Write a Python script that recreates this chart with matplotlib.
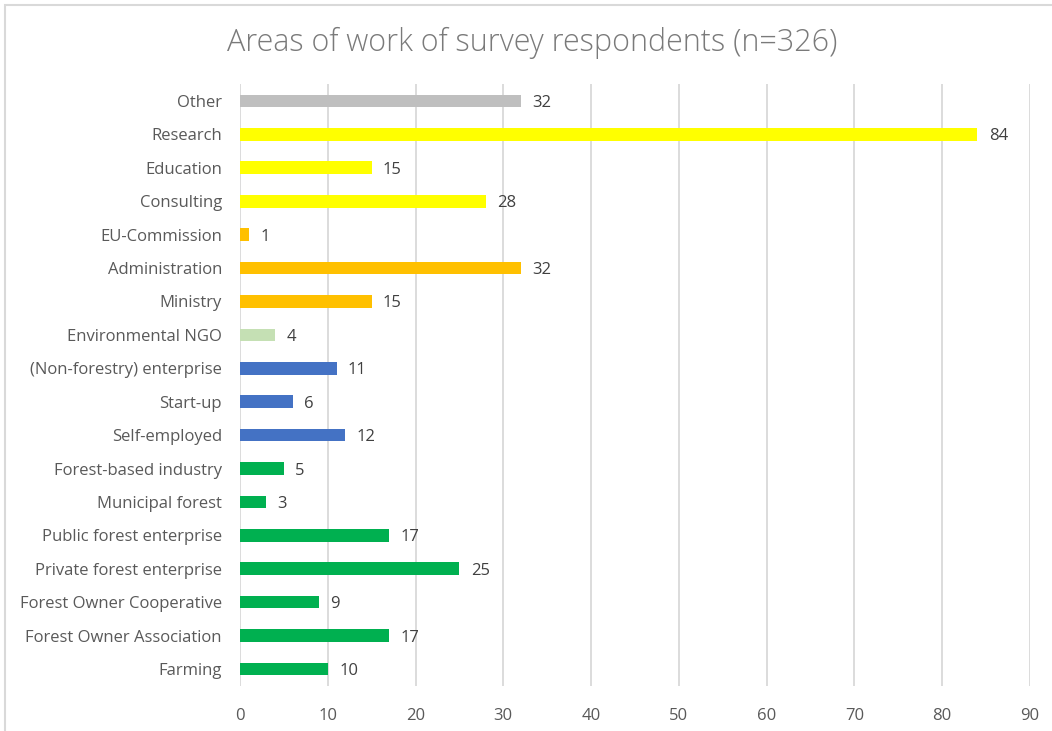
import matplotlib.pyplot as plt
from matplotlib.patches import Rectangle

plt.rcParams['font.family'] = ['Open Sans', 'DejaVu Sans']

# categories listed bottom to top, as they appear on the axis
categories = ['Farming', 'Forest Owner Association', 'Forest Owner Cooperative',
              'Private forest enterprise', 'Public forest enterprise', 'Municipal forest',
              'Forest-based industry', 'Self-employed', 'Start-up',
              '(Non-forestry) enterprise', 'Environmental NGO', 'Ministry',
              'Administration', 'EU-Commission', 'Consulting', 'Education',
              'Research', 'Other']
counts = [10, 17, 9, 25, 17, 3, 5, 12, 6, 11, 4, 15, 32, 1, 28, 15, 84, 32]
groups = ['forest'] * 7 + ['business'] * 3 + ['ngo'] + ['public'] * 3 + ['science'] * 3 + ['other']

group_colors = {
    'forest': '#00B050',
    'business': '#4472C4',
    'ngo': '#C5E0B4',
    'public': '#FFC000',
    'science': '#FFFF00',
    'other': '#BFBFBF',
}

fig = plt.figure(figsize=(10.52, 7.31), dpi=100)
ax = fig.add_axes([0.2281, 0.062, 0.7509, 0.8227])

ypos = range(len(categories))
ax.barh(ypos, counts, height=0.38, color=[group_colors[g] for g in groups], zorder=3)

for y, v in zip(ypos, counts):
    ax.text(v + 1.3, y, str(v), va='center_baseline', ha='left', fontsize=12, color='#404040')

ax.set_xlim(0, 90)
ax.set_ylim(-0.5, len(categories) - 0.5)
ax.set_xticks(range(0, 91, 10))
ax.set_yticks(list(ypos))
ax.set_yticklabels(categories)
ax.tick_params(axis='both', length=0, labelsize=12, labelcolor='#595959')
ax.tick_params(axis='x', pad=16)
ax.tick_params(axis='y', pad=13)
for lbl in ax.get_yticklabels():
    lbl.set_verticalalignment('center_baseline')
ax.grid(axis='x', color='#D9D9D9', linewidth=1.3, zorder=0)
for s in ax.spines.values():
    s.set_visible(False)

fig.text(0.506, 0.941, 'Areas of work of survey respondents (n=326)', ha='center', va='center',
         fontsize=22, color='#7A7A7A', fontweight='light')

# chart border
fig.patches.append(Rectangle((5 / 1052, -0.01), 1.1, 1 - 5 / 731 + 0.01, transform=fig.transFigure,
                             fill=False, edgecolor='#D9D9D9', linewidth=1.5))

fig.savefig('out.png', dpi=100)
